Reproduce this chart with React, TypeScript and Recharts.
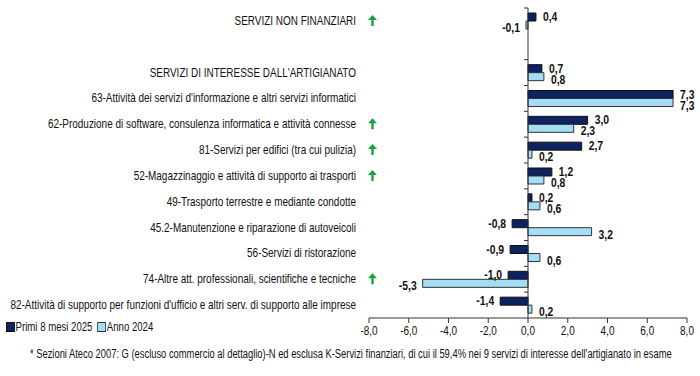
import React from 'react';
import { BarChart, Bar, XAxis, YAxis, ReferenceLine, LabelList } from 'recharts';

// categories (the blank row is the spacer under the first total, as in the original)
const categories = [
  'SERVIZI NON FINANZIARI',
  '',
  "SERVIZI DI INTERESSE DALL'ARTIGIANATO",
  "63-Attività dei servizi d'informazione e altri servizi informatici",
  '62-Produzione di software, consulenza informatica e attività connesse',
  '81-Servizi per edifici (tra cui pulizia)',
  '52-Magazzinaggio e attività di supporto ai trasporti',
  '49-Trasporto terrestre e mediante condotte',
  '45.2-Manutenzione e riparazione di autoveicoli',
  '56-Servizi di ristorazione',
  '74-Altre att. professionali, scientifiche e tecniche',
  "82-Attività di supporto per funzioni d'ufficio e altri serv. di supporto alle imprese",
];
const primi2025 = [0.4, 0.0, 0.7, 7.3, 3.0, 2.7, 1.2, 0.2, -0.8, -0.9, -1.0, -1.4];
const anno2024 = [-0.1, null, 0.8, 7.3, 2.3, 0.2, 0.8, 0.6, 3.2, 0.6, -5.3, 0.2];
const arrowUp = [true, false, false, false, true, true, true, false, false, false, true, false];
const xTicks = [-8, -6, -4, -2, 0, 2, 4, 6, 8];

const data = categories.map((name, i) => ({
  name,
  primi: primi2025[i],
  anno: anno2024[i],
  arrow: arrowUp[i],
}));

const W = 700;
const H = 376;
const MARGIN = { top: 8, right: 13, left: 0, bottom: 28 };
const Y_WIDTH = 369;
const X_HEIGHT = 30;
const PLOT_W = W - MARGIN.left - Y_WIDTH - MARGIN.right;
const PLOT_H = H - MARGIN.top - MARGIN.bottom - X_HEIGHT;
const ZERO_X = MARGIN.left + Y_WIDTH + PLOT_W / 2;
const BAND = PLOT_H / categories.length;

// no Arial Narrow here, so squeeze Liberation Sans horizontally
const FONT = "'Liberation Sans', Arial, sans-serif";
const SX = 0.83;
const DARK = '#0d2260';
const LIGHT = '#a3ddf6';

const fmt = (v: number) => v.toFixed(1).replace('.', ',');

const NText = ({ x, y, anchor, size, bold, children }: any) => (
  <text
    transform={`translate(${x},${y}) scale(${SX},1)`}
    textAnchor={anchor}
    fontSize={size}
    fontWeight={bold ? 'bold' : 'normal'}
    fontFamily={FONT}
    fill="#111"
  >
    {children}
  </text>
);

const CategoryTick = (props: any) => {
  const { y, payload, index } = props;
  const row = data[index];
  return (
    <g>
      <NText x={356} y={y + 4} anchor="end" size={12}>
        {payload.value}
      </NText>
      {row && row.arrow && (
        <path
          d={`M${372.5},${y - 6} L${377},${y - 1} L${373.7},${y - 1} L${373.7},${y + 5} L${371.3},${y + 5} L${371.3},${y - 1} L${368},${y - 1} Z`}
          fill="#1aa33c"
        />
      )}
      {index !== 1 && (
        <line x1={ZERO_X - 4} x2={ZERO_X} y1={y - BAND / 2} y2={y - BAND / 2} stroke="#333" strokeWidth={1} />
      )}
    </g>
  );
};

const XTick = (props: any) => {
  const { x, y, payload } = props;
  return (
    <NText x={x} y={y + 10} anchor="middle" size={12}>
      {fmt(payload.value)}
    </NText>
  );
};

const makeLabel = (light: boolean) => (props: any) => {
  const { x, y, width, height, value } = props;
  if (value === null || value === undefined) return null;
  const x0 = Number(x);
  const w = Number(width);
  const neg = value < 0;
  const end = neg ? Math.min(x0, x0 + w) : Math.max(x0, x0 + w);
  const cy = Number(y) + Number(height) / 2;
  return (
    <NText x={neg ? end - 6 : end + 7} y={cy + (light ? 7 : 4)} anchor={neg ? 'end' : 'start'} size={12.5} bold>
      {fmt(value)}
    </NText>
  );
};

export default function App() {
  return (
    <div style={{ position: 'absolute', left: 0, top: 0, width: W, height: H, background: '#fff', overflow: 'hidden' }}>
      <BarChart
        width={W}
        height={H}
        data={data}
        layout="vertical"
        margin={MARGIN}
        barSize={8}
        barGap={0}
      >
        <XAxis
          type="number"
          domain={[-8, 8]}
          ticks={xTicks}
          height={X_HEIGHT}
          axisLine={{ stroke: '#333' }}
          tickLine={{ stroke: '#333' }}
          tickSize={5}
          tick={<XTick />}
        />
        <YAxis
          type="category"
          dataKey="name"
          width={Y_WIDTH}
          axisLine={false}
          tickLine={false}
          interval={0}
          tick={<CategoryTick />}
        />
        <ReferenceLine x={0} stroke="#333" />
        <Bar dataKey="primi" fill={DARK} stroke="#111" strokeWidth={1} isAnimationActive={false}>
          <LabelList dataKey="primi" content={makeLabel(false)} />
        </Bar>
        <Bar dataKey="anno" fill={LIGHT} stroke="#333" strokeWidth={1} isAnimationActive={false}>
          <LabelList dataKey="anno" content={makeLabel(true)} />
        </Bar>
      </BarChart>
      <div
        style={{
          position: 'absolute',
          left: 6,
          top: 320,
          fontFamily: FONT,
          fontSize: 12,
          color: '#111',
          display: 'flex',
          alignItems: 'center',
          whiteSpace: 'nowrap',
          transform: 'scaleX(0.8)',
          transformOrigin: 'left center',
        }}
      >
        <span style={{ display: 'inline-block', width: 9, height: 8, background: DARK, border: '1px solid #111', marginRight: 1 }} />
        <span style={{ marginRight: 6 }}>Primi 8 mesi 2025</span>
        <span style={{ display: 'inline-block', width: 9, height: 8, background: LIGHT, border: '1px solid #333', marginRight: 1 }} />
        <span>Anno 2024</span>
      </div>
      <div
        style={{
          position: 'absolute',
          left: 30,
          top: 347,
          width: 900,
          fontFamily: FONT,
          fontSize: 12,
          color: '#111',
          whiteSpace: 'nowrap',
          transform: 'scaleX(0.78)',
          transformOrigin: 'left center',
        }}
      >
        * Sezioni Ateco 2007: G (escluso commercio al dettaglio)-N ed esclusa K-Servizi finanziari, di cui il 59,4% nei 9 servizi di interesse dell'artigianato in esame
      </div>
    </div>
  );
}
